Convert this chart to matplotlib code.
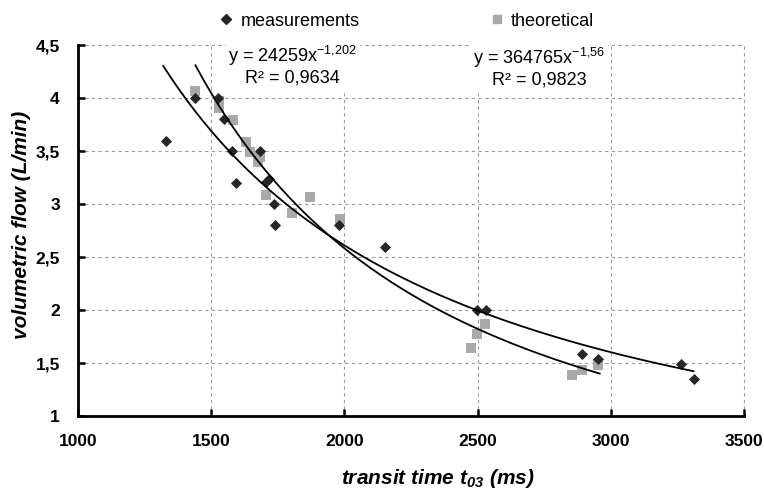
import numpy as np
import matplotlib
matplotlib.use("Agg")
import matplotlib.pyplot as plt
from matplotlib.lines import Line2D

# --- DATA ---
meas_t = [1330, 1441, 1526, 1547, 1579, 1595, 1685, 1704, 1716, 1735, 1741,
          1981, 2153, 2497, 2532, 2893, 2953, 3263, 3310]
meas_q = [3.6, 4.0, 4.0, 3.8, 3.5, 3.2, 3.5, 3.21, 3.24, 3.0, 2.8,
          2.8, 2.6, 2.0, 2.0, 1.59, 1.54, 1.49, 1.35]

theo_t = [1441, 1528, 1531, 1581, 1631, 1647, 1676, 1682, 1704, 1804, 1872,
          1982, 2475, 2498, 2529, 2854, 2893, 2953]
theo_q = [4.07, 3.97, 3.91, 3.79, 3.59, 3.49, 3.40, 3.45, 3.09, 2.92, 3.07,
          2.86, 1.64, 1.78, 1.87, 1.39, 1.44, 1.48]

# power-law fits y = a * x^b, as printed on the chart
meas_fit = (24259, -1.202)
theo_fit = (364765, -1.56)

x_ticks = [1000, 1500, 2000, 2500, 3000, 3500]
y_ticks = [1, 1.5, 2, 2.5, 3, 3.5, 4, 4.5]
y_tick_labels = ["1", "1,5", "2", "2,5", "3", "3,5", "4", "4,5"]

plt.rcParams["font.family"] = ["Liberation Sans", "DejaVu Sans"]
plt.rcParams["mathtext.fontset"] = "custom"
plt.rcParams["mathtext.rm"] = "Liberation Sans"
plt.rcParams["mathtext.it"] = "Liberation Sans:italic"
plt.rcParams["mathtext.bf"] = "Liberation Sans:bold"
plt.rcParams["mathtext.bfit"] = "Liberation Sans:bold:italic"
plt.rcParams["mathtext.default"] = "regular"

fig = plt.figure(figsize=(7.64, 4.91), dpi=100)
ax = fig.add_axes([0.102, 0.152, 0.872, 0.756])

ax.grid(True, color="#9a9a9a", linestyle=(0, (3, 3)), linewidth=0.8)
ax.set_axisbelow(True)
for gl in ax.get_xgridlines() + ax.get_ygridlines():
    gl.set_clip_on(False)

ax.scatter(theo_t, theo_q, marker="s", s=48, color="#a9a9a9", zorder=3, linewidths=0)
ax.scatter(meas_t, meas_q, marker="D", s=32, color="#262626", zorder=4, linewidths=0)

xs = np.linspace(min(meas_t) - 10, max(meas_t), 200)
ax.plot(xs, meas_fit[0] * xs ** meas_fit[1], color="black", lw=1.3, zorder=5)
xs = np.linspace(min(theo_t), max(theo_t) + 5, 200)
ax.plot(xs, theo_fit[0] * xs ** theo_fit[1], color="black", lw=1.3, zorder=5)

ax.set_xlim(1000, 3500)
ax.set_ylim(1, 4.5)
ax.set_xticks(x_ticks)
ax.set_xticklabels([str(t) for t in x_ticks])
ax.set_yticks(y_ticks)
ax.set_yticklabels(y_tick_labels)
ax.tick_params(direction="in", length=5, width=1.8, labelsize=12.5, pad=13)
for lab in ax.get_xticklabels() + ax.get_yticklabels():
    lab.set_fontweight("bold")

for side in ["top", "right"]:
    ax.spines[side].set_visible(False)
for side in ["left", "bottom"]:
    ax.spines[side].set_linewidth(2)

ax.set_xlabel(r"transit time t$_{\mathbfit{03}}$ (ms)", fontsize=15,
              fontweight="bold", fontstyle="italic")
ax.set_ylabel("volumetric flow (L/min)", fontsize=15, fontweight="bold",
              fontstyle="italic")
ax.xaxis.set_label_coords(0.54, -0.167)
ax.xaxis.label.set_verticalalignment("center")
ax.yaxis.set_label_coords(-0.084, 0.515)
ax.yaxis.label.set_verticalalignment("center")

box = dict(facecolor="white", edgecolor="none", pad=2)
ax.text(1806, 4.31, "y = 24259x$^{-1{,}202}$\nR² = 0,9634", fontsize=13,
        ha="center", va="center", linespacing=1.15, bbox=box, zorder=6)
ax.text(2732, 4.29, "y = 364765x$^{-1{,}56}$\nR² = 0,9823", fontsize=13,
        ha="center", va="center", linespacing=1.15, bbox=box, zorder=6)

handles = [
    Line2D([], [], marker="D", color="#262626", linestyle="none", markersize=5),
    Line2D([], [], marker="s", color="#a9a9a9", linestyle="none", markersize=6),
]
fig.legend(handles, ["measurements", "theoretical"], loc="center",
           bbox_to_anchor=(0.532, 0.957), ncol=2, frameon=False, fontsize=13,
           columnspacing=7.2, handletextpad=0.4, handlelength=0.8)

fig.savefig("out.png", dpi=100)
